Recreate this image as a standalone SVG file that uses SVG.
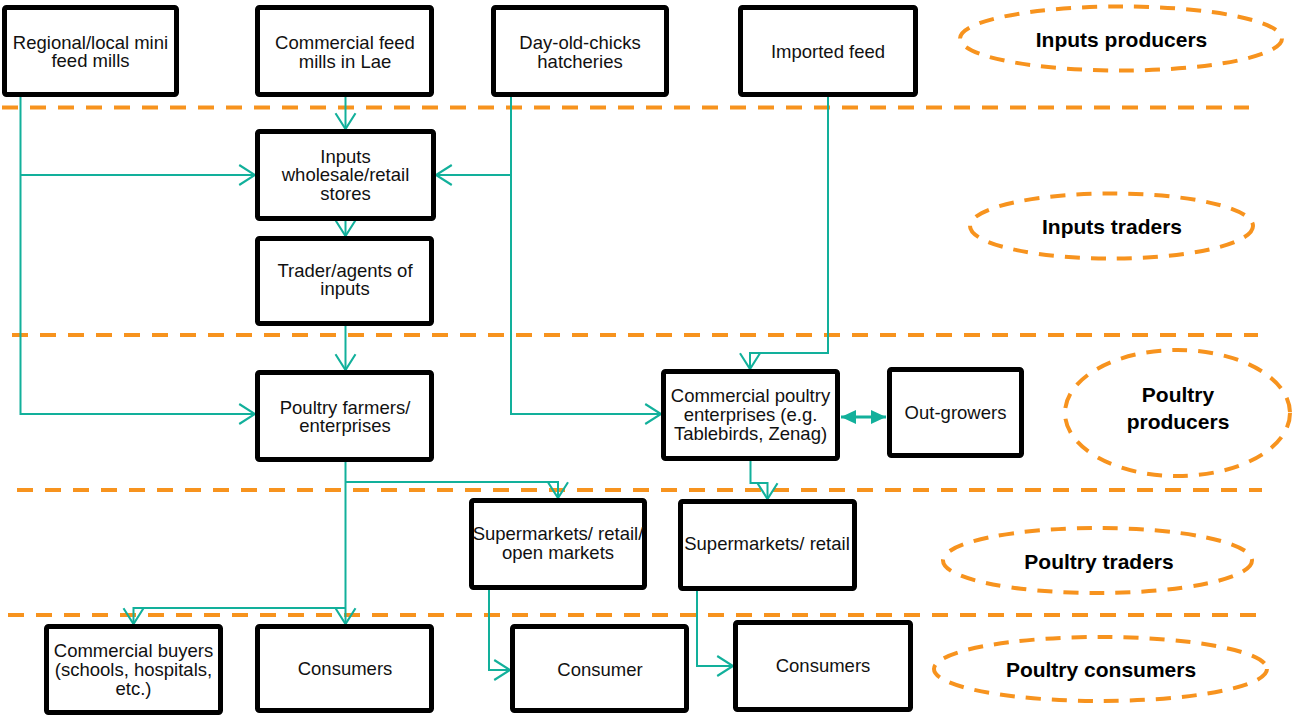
<svg xmlns="http://www.w3.org/2000/svg" width="1293" height="715" viewBox="0 0 1293 715">
  <style>
    .box { fill: #ffffff; stroke: #000000; stroke-width: 5; }
    .lbl { font-family: "Liberation Sans", Arial, sans-serif; font-size: 18.5px; fill: #111111; text-anchor: middle; }
    .tier { font-family: "Liberation Sans", Arial, sans-serif; font-size: 21px; font-weight: bold; fill: #000000; text-anchor: middle; }
    .sep { stroke: #F7931E; stroke-width: 4; stroke-dasharray: 16 12; fill: none; }
    .oval { stroke: #F7931E; stroke-width: 4; stroke-dasharray: 15 11; fill: none; }
    .flow { stroke: #12B09B; stroke-width: 2; fill: none; marker-end: url(#chev); }
    .flow-plain { stroke: #12B09B; stroke-width: 2; fill: none; }
    .link { stroke: #12B09B; stroke-width: 3; fill: none; marker-start: url(#tri); marker-end: url(#tri); }
  </style>
  <defs>
    <marker id="chev" markerUnits="userSpaceOnUse" markerWidth="20" markerHeight="24" viewBox="-17 -11 19 22" refX="0" refY="0" orient="auto">
      <path d="M-15,-9.5 L0,0 L-15,9.5" fill="none" stroke="#12B09B" stroke-width="2"/>
    </marker>
    <marker id="tri" markerUnits="userSpaceOnUse" markerWidth="18" markerHeight="16" viewBox="-16 -8 17 16" refX="0" refY="0" orient="auto-start-reverse">
      <path d="M-15,-7 L0,0 L-15,7 Z" fill="#12B09B"/>
    </marker>
  </defs>

  <!-- tier separators -->
  <g id="separators">
    <line class="sep" x1="2" y1="107.5" x2="1249" y2="107.5"/>
    <line class="sep" x1="12" y1="335" x2="1258" y2="335"/>
    <line class="sep" x1="17" y1="490" x2="1262" y2="490"/>
    <line class="sep" x1="8" y1="615" x2="1257" y2="615"/>
  </g>

  <!-- tier labels -->
  <g id="tier-inputs-producers">
    <ellipse class="oval" cx="1121" cy="38.5" rx="161" ry="32"/>
    <text class="tier" x="1121.5" y="46.5">Inputs producers</text>
  </g>
  <g id="tier-inputs-traders">
    <ellipse class="oval" cx="1111.5" cy="226" rx="141.5" ry="32.5"/>
    <text class="tier" x="1112" y="233.5">Inputs traders</text>
  </g>
  <g id="tier-poultry-producers">
    <ellipse class="oval" cx="1177.5" cy="413" rx="112.5" ry="63"/>
    <text class="tier" x="1178" y="402">Poultry</text>
    <text class="tier" x="1178" y="429">producers</text>
  </g>
  <g id="tier-poultry-traders">
    <ellipse class="oval" cx="1097.5" cy="560.5" rx="154.5" ry="32.5"/>
    <text class="tier" x="1099" y="568.5">Poultry traders</text>
  </g>
  <g id="tier-poultry-consumers">
    <ellipse class="oval" cx="1100.5" cy="669" rx="166.5" ry="32"/>
    <text class="tier" x="1101" y="676.5">Poultry consumers</text>
  </g>

  <!-- connectors -->
  <g id="connectors">
    <path class="flow" d="M20.5,97 V414 H255"/>
    <path class="flow" d="M20.5,175 H255"/>
    <path class="flow" d="M345.5,97 V129"/>
    <path class="flow" d="M511,97 V414 H661"/>
    <path class="flow" d="M511,175 H436"/>
    <path class="flow" d="M828,97 V353 H750 V369"/>
    <path class="flow" d="M345.5,221 V236"/>
    <path class="flow" d="M345.5,326 V370"/>
    <path class="flow" d="M345.5,462 V624"/>
    <path class="flow" d="M345.5,482 H558 V498"/>
    <path class="flow" d="M345.5,608 H133.5 V624"/>
    <path class="flow" d="M750.5,461 V483 H767.5 V499"/>
    <path class="flow" d="M489,590 V670 H510"/>
    <path class="flow" d="M697,591 V666 H733"/>
    <path class="link" d="M841,417 H886"/>
  </g>

  <!-- nodes -->
  <g id="mini-feed-mills">
    <rect class="box" x="4.5" y="7.5" width="172" height="87" rx="2"/>
    <text class="lbl" x="90.5" y="48.5">Regional/local mini</text>
    <text class="lbl" x="90.5" y="67">feed mills</text>
  </g>
  <g id="lae-feed-mills">
    <rect class="box" x="257.5" y="7.5" width="174" height="87" rx="2"/>
    <text class="lbl" x="345" y="49">Commercial feed</text>
    <text class="lbl" x="345" y="67.5">mills in Lae</text>
  </g>
  <g id="hatcheries">
    <rect class="box" x="493.5" y="7.5" width="173" height="87" rx="2"/>
    <text class="lbl" x="580" y="49">Day-old-chicks</text>
    <text class="lbl" x="580" y="67.5">hatcheries</text>
  </g>
  <g id="imported-feed">
    <rect class="box" x="740.5" y="7.5" width="175" height="87" rx="2"/>
    <text class="lbl" x="828" y="57.5">Imported feed</text>
  </g>
  <g id="input-stores">
    <rect class="box" x="257.5" y="131.5" width="176" height="87" rx="2"/>
    <text class="lbl" x="345.5" y="162.5">Inputs</text>
    <text class="lbl" x="345.5" y="181">wholesale/retail</text>
    <text class="lbl" x="345.5" y="199.5">stores</text>
  </g>
  <g id="input-agents">
    <rect class="box" x="257.5" y="238.5" width="174" height="85" rx="2"/>
    <text class="lbl" x="345" y="276.5">Trader/agents of</text>
    <text class="lbl" x="345" y="295">inputs</text>
  </g>
  <g id="poultry-farmers">
    <rect class="box" x="257.5" y="372.5" width="174" height="87" rx="2"/>
    <text class="lbl" x="345" y="413.5">Poultry farmers/</text>
    <text class="lbl" x="345" y="432">enterprises</text>
  </g>
  <g id="commercial-enterprises">
    <rect class="box" x="663.5" y="371.5" width="174" height="87" rx="2"/>
    <text class="lbl" x="750.5" y="402">Commercial poultry</text>
    <text class="lbl" x="750.5" y="420.5">enterprises (e.g.</text>
    <text class="lbl" x="750.5" y="439.5">Tablebirds, Zenag)</text>
  </g>
  <g id="out-growers">
    <rect class="box" x="889.5" y="369.5" width="132" height="86" rx="2"/>
    <text class="lbl" x="955.5" y="419">Out-growers</text>
  </g>
  <g id="markets-open">
    <rect class="box" x="471.5" y="500.5" width="173" height="87" rx="2"/>
    <text class="lbl" x="558" y="540">Supermarkets/ retail/</text>
    <text class="lbl" x="558" y="559">open markets</text>
  </g>
  <g id="markets-retail">
    <rect class="box" x="680.5" y="501.5" width="174" height="87" rx="2"/>
    <text class="lbl" x="767" y="550">Supermarkets/ retail</text>
  </g>
  <g id="commercial-buyers">
    <rect class="box" x="46.5" y="626.5" width="174" height="86" rx="2"/>
    <text class="lbl" x="133.5" y="657">Commercial buyers</text>
    <text class="lbl" x="133.5" y="676">(schools, hospitals,</text>
    <text class="lbl" x="133.5" y="695">etc.)</text>
  </g>
  <g id="consumers-farm">
    <rect class="box" x="257.5" y="626.5" width="174" height="84" rx="2"/>
    <text class="lbl" x="345" y="675">Consumers</text>
  </g>
  <g id="consumer-market">
    <rect class="box" x="512.5" y="626.5" width="174" height="84" rx="2"/>
    <text class="lbl" x="600" y="675.5">Consumer</text>
  </g>
  <g id="consumers-retail">
    <rect class="box" x="735.5" y="622.5" width="175" height="87" rx="2"/>
    <text class="lbl" x="823" y="671.5">Consumers</text>
  </g>
</svg>
